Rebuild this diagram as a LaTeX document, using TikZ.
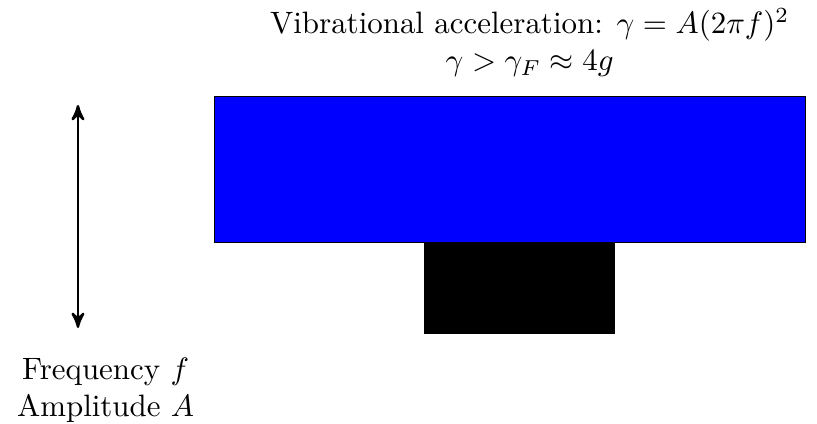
\documentclass[tikz,border=0pt]{standalone}
\usepackage{amsmath,amssymb}
\usepackage{tikz}
\usetikzlibrary{arrows,positioning,calc}

\begin{document}
\begin{tikzpicture}[>=stealth',every node/.style={font=\normalsize}]
\useasboundingbox (0,0) rectangle (9.284,-4.818);
\node[draw,fill=blue,minimum width=6.716cm,minimum height=1.659cm,inner sep=0pt,anchor=north west](plate) at (2.432,-1.091){};
\node[fill=black,minimum width=2.17cm,minimum height=1.034cm,inner sep=0pt,anchor=north west](base) at (4.807,-2.75){};
\node[align=center](accel) at (6.02,-0.48){Vibrational acceleration: $\gamma=A(2\pi f)^2$\\$\gamma>\gamma_F\approx 4g$};
\coordinate (shaketop) at (0.886,-1.193);
\coordinate (shakebot) at (0.886,-3.727);
\draw[<->,thick](shaketop)--(shakebot);
\node[align=center](drive) at (1.2,-4.43){Frequency $f$\\Amplitude $A$};
\end{tikzpicture}
\end{document}
